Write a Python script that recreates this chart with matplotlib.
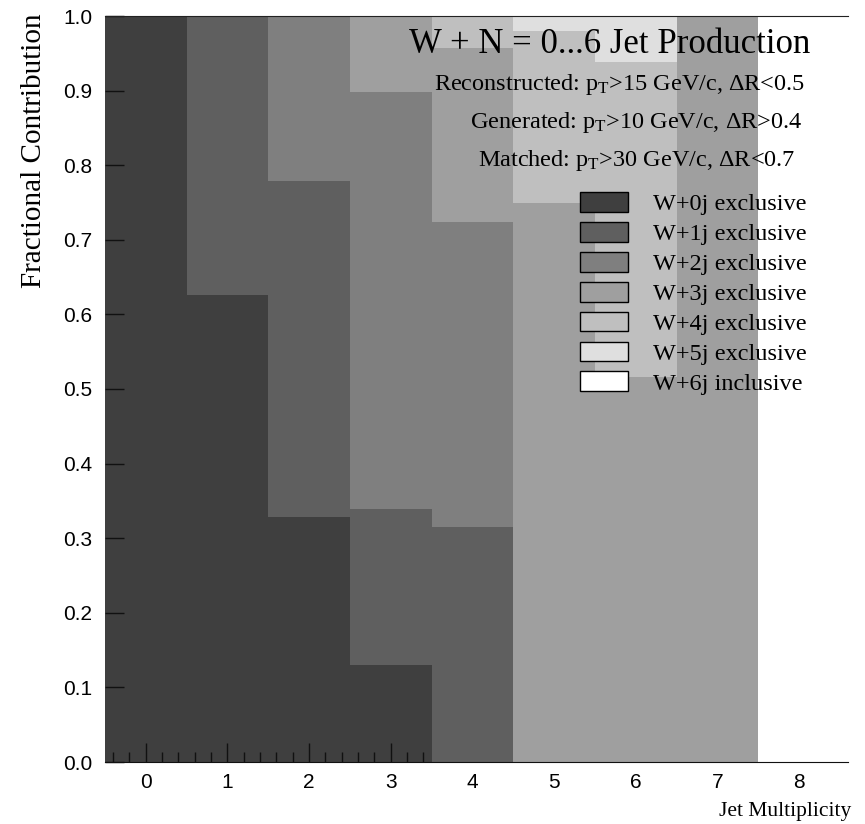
import numpy as np
import matplotlib
matplotlib.use("Agg")
import matplotlib.pyplot as plt

plt.rcParams['font.family'] = ['Liberation Serif', 'DejaVu Serif']
plt.rcParams['mathtext.fontset'] = 'custom'
plt.rcParams['mathtext.rm'] = 'Liberation Serif'
plt.rcParams['mathtext.it'] = 'Liberation Serif:italic'

# jet multiplicity bins
jets = np.arange(9)

# fractional contribution of each sample per bin
w0j = [1.000, 0.626, 0.328, 0.130, 0.000, 0.000, 0.000, 0.000, 0.0]
w1j = [0.000, 0.374, 0.451, 0.209, 0.315, 0.000, 0.000, 0.000, 0.0]
w2j = [0.000, 0.000, 0.221, 0.559, 0.409, 0.000, 0.000, 0.000, 0.0]
w3j = [0.000, 0.000, 0.000, 0.102, 0.233, 0.749, 0.516, 1.000, 0.0]
w4j = [0.000, 0.000, 0.000, 0.000, 0.043, 0.231, 0.422, 0.000, 0.0]
w5j = [0.000, 0.000, 0.000, 0.000, 0.000, 0.020, 0.062, 0.000, 0.0]
w6j = [0.000, 0.000, 0.000, 0.000, 0.000, 0.000, 0.000, 0.000, 0.0]

samples = [w0j, w1j, w2j, w3j, w4j, w5j, w6j]
labels = ["W+0j exclusive", "W+1j exclusive", "W+2j exclusive", "W+3j exclusive",
          "W+4j exclusive", "W+5j exclusive", "W+6j inclusive"]
colors = ["#3f3f3f", "#5f5f5f", "#7f7f7f", "#9f9f9f", "#bfbfbf", "#dfdfdf", "#ffffff"]

fig = plt.figure(figsize=(8.65, 8.24), dpi=100)
ax = fig.add_axes([105 / 865, 62 / 824, 743 / 865, 746 / 824])

bottom = np.zeros(len(jets))
for i, (vals, lab, col) in enumerate(zip(samples, labels, colors)):
    # W+0j sits under the tick marks, like in the original
    z = 0.4 if i == 0 else 1
    ax.bar(jets, vals, width=1.0, bottom=bottom, color=col, label=lab,
           linewidth=0, antialiased=False, zorder=z)
    bottom += np.array(vals)

ax.set_xlim(-0.5, 8.6)
ax.set_ylim(0, 1)
ax.set_axisbelow(True)

ax.set_xticks(jets)
ax.set_xticks(np.round(np.arange(-0.4, 7.5, 0.2), 1), minor=True)
ax.set_yticks(np.round(np.arange(0, 1.01, 0.1), 1))
ax.set_yticklabels([f"{v:.1f}" for v in np.arange(0, 1.01, 0.1)])
ax.tick_params(which='major', direction='in', length=14, width=1, labelsize=15,
               labelfontfamily='Liberation Sans', color='#111111')
ax.tick_params(which='minor', direction='in', length=7, width=1, color='#111111')
ax.tick_params(axis='x', pad=8)
ax.tick_params(axis='y', which='minor', left=False)
ax.tick_params(axis='y', pad=9)
ax.xaxis.get_major_ticks()[-1].tick1line.set_visible(False)

for s in ['left', 'right']:
    ax.spines[s].set_visible(False)
ax.spines['top'].set_color('#222222')
ax.spines['bottom'].set_color('#111111')

ax.set_ylabel("Fractional Contribution", fontsize=21, loc='top')
ax.yaxis.set_label_coords(-0.078, 1.004)
ax.set_xlabel("Jet Multiplicity", fontsize=15.5, loc='right')
ax.xaxis.set_label_coords(1.004, -0.053)

ax.text(0.949, 0.950, "W + N = 0...6 Jet Production", fontsize=25,
        ha='right', va='baseline', transform=ax.transAxes)
ax.text(0.942, 0.901, r"Reconstructed: p$_{\mathrm{T}}$>15 GeV/c, ΔR<0.5", fontsize=17.5,
        ha='right', va='baseline', transform=ax.transAxes)
ax.text(0.939, 0.850, r"Generated: p$_{\mathrm{T}}$>10 GeV/c, ΔR>0.4", fontsize=17.5,
        ha='right', va='baseline', transform=ax.transAxes)
ax.text(0.929, 0.799, r"Matched: p$_{\mathrm{T}}$>30 GeV/c, ΔR<0.7", fontsize=17.5,
        ha='right', va='baseline', transform=ax.transAxes)

leg = ax.legend(loc='upper left', bbox_to_anchor=(0.639, 0.764), frameon=False,
                fontsize=17.5, borderpad=0, borderaxespad=0, handlelength=1.97,
                handleheight=0.88, handletextpad=1.03, labelspacing=0.27)
for p in leg.get_patches():
    p.set_edgecolor('black')
    p.set_linewidth(1)

fig.savefig("out.png", dpi=100)
